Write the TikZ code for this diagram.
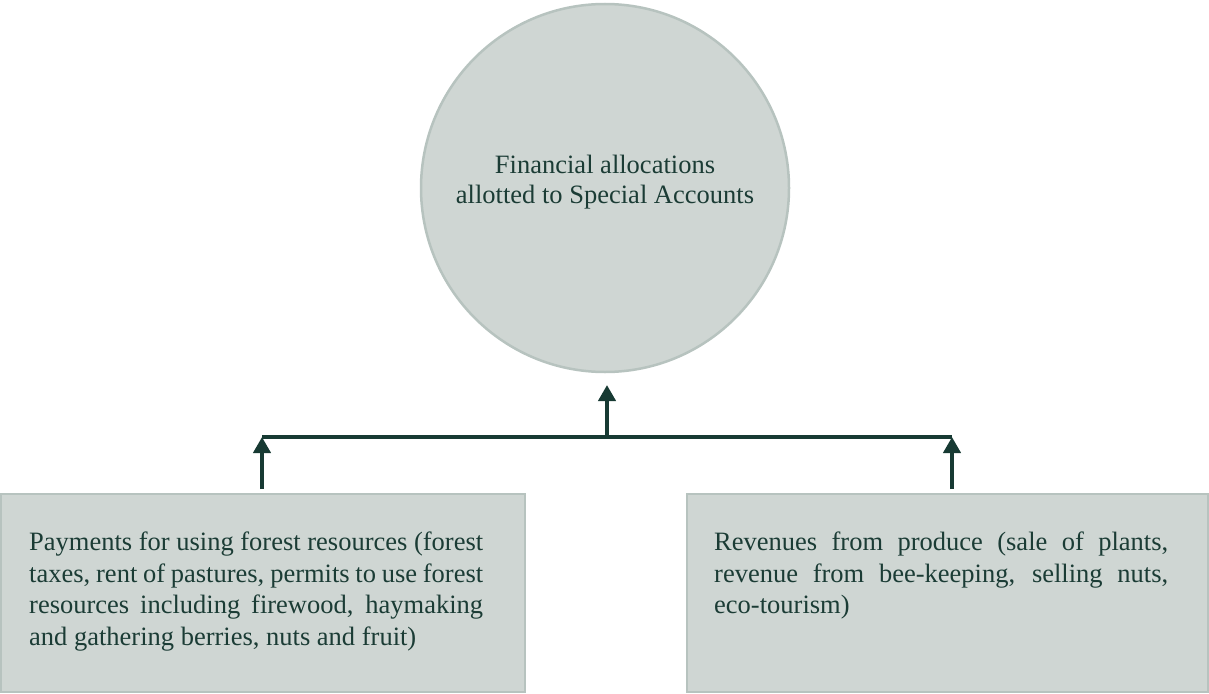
\documentclass[tikz,border=0pt]{standalone}
\usepackage{fontspec}
\setmainfont{Liberation Serif}
\usetikzlibrary{arrows.meta}
\definecolor{fillc}{HTML}{CFD6D3}
\definecolor{edgec}{HTML}{B7C3BF}
\definecolor{arrc}{HTML}{173A33}
\definecolor{txtc}{HTML}{1B3C35}
\begin{document}
\begin{tikzpicture}[x=1pt,y=-1pt,
 panel/.style={draw=edgec, line width=2.5pt, fill=fillc, inner sep=0pt, outer sep=0pt},
 body/.style={font=\fontsize{26.5}{31.7}\selectfont, text=txtc, text width=454pt, align=justify, inner sep=0pt, anchor=north west},
 flow/.style={draw=arrc, line width=4pt, -{Triangle[length=16pt,width=17pt]}},
 bar/.style={draw=arrc, line width=4pt}
]
\useasboundingbox (0,0) rectangle (1209,693);
\node[panel, circle, minimum size=368pt] (circ) at (605,188) {};
\node[font=\fontsize{26.5}{30}\selectfont, text=txtc, align=center, inner sep=0pt] (ctext) at (605,182.5) {Financial allocations\\allotted to Special Accounts};
\node[panel, rectangle, minimum width=524pt, minimum height=198pt] (lbox) at (263,593) {};
\node[panel, rectangle, minimum width=521pt, minimum height=198pt] (rbox) at (947.5,593) {};
\node[body] (ltext) at (29,531.5) {Payments for using forest resources (forest\linebreak taxes, rent of pastures, permits to use forest\linebreak resources including firewood, haymaking\linebreak and gathering berries, nuts and fruit)};
\node[body] (rtext) at (714,531.5) {Revenues from produce (sale of plants,\linebreak revenue from bee-keeping, selling nuts,\linebreak eco-tourism)};
\coordinate (jl) at (262,437);
\coordinate (jm) at (607,437);
\coordinate (jr) at (952,437);
\draw[bar] (jl) -- (jr);
\draw[flow, shorten <=5pt] (lbox.north -| jl) -- (jl);
\draw[flow, shorten <=5pt] (rbox.north -| jr) -- (jr);
\draw[flow, shorten >=13pt] (jm) -- (circ.south -| jm);
\end{tikzpicture}
\end{document}
